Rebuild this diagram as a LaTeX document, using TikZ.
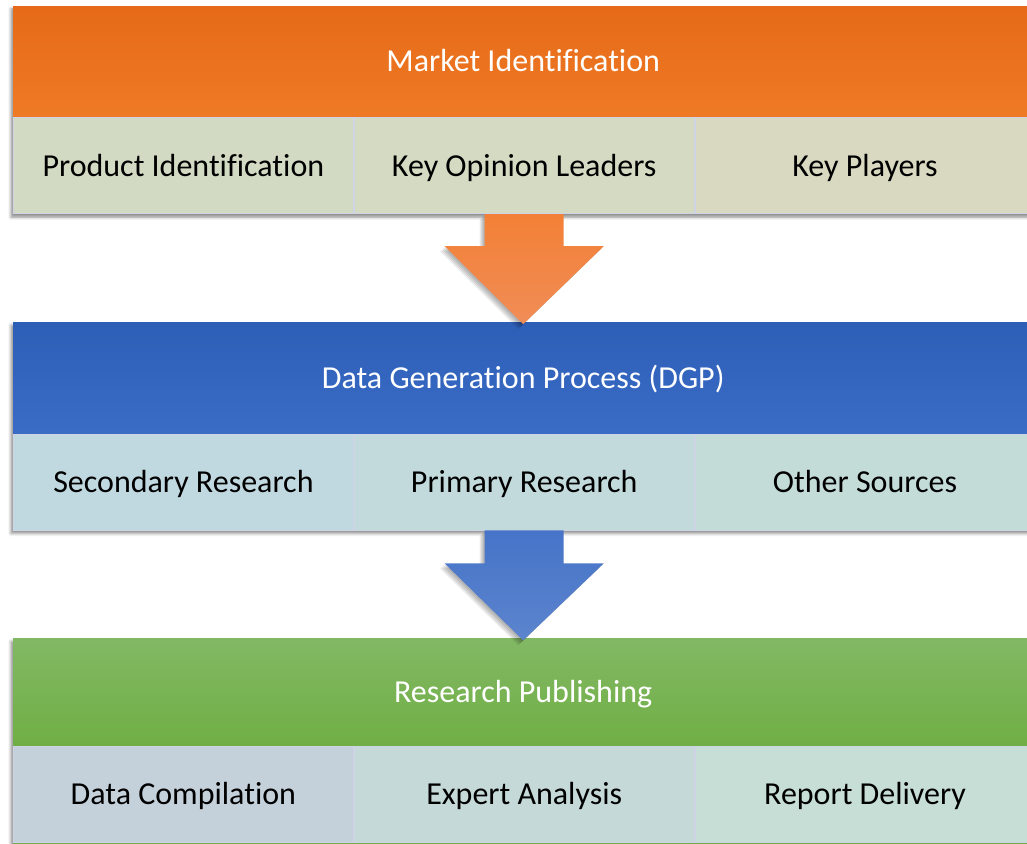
\documentclass[tikz,border=0pt]{standalone}
\usepackage{fontspec}
\setmainfont{Carlito}[Ligatures=NoCommon]
\usetikzlibrary{positioning,calc,fit,shadows.blur}

\definecolor{marketTop}{RGB}{230,106,23}
\definecolor{marketBottom}{RGB}{239,122,37}
\definecolor{dgpTop}{RGB}{46,95,183}
\definecolor{dgpBottom}{RGB}{58,108,198}
\definecolor{publishTop}{RGB}{130,184,100}
\definecolor{publishBottom}{RGB}{112,175,69}
\definecolor{orangeArrowTop}{RGB}{243,128,54}
\definecolor{orangeArrowBottom}{RGB}{240,141,87}
\definecolor{blueArrowTop}{RGB}{70,116,200}
\definecolor{blueArrowBottom}{RGB}{92,132,206}
\definecolor{cellLine}{RGB}{206,211,230}

\tikzset{band/.style={minimum width=1020pt, minimum height=111pt, inner sep=0pt, text height=20.5pt, text depth=0pt, text=white, font=\fontsize{32}{38}\selectfont}}
\tikzset{cell/.style={draw=cellLine, line width=0.8pt, minimum width=340pt, minimum height=96pt, inner sep=0pt, text height=20.5pt, text depth=0pt, font=\fontsize{32}{38}\selectfont}}
\tikzset{shade box/.style={inner sep=0pt, fill=white, blur shadow={shadow xshift=-2pt, shadow yshift=-3pt, shadow blur radius=3pt, shadow opacity=45}}}
\tikzset{arrow shadow/.style={fill=black, opacity=0.07}}

\begin{document}
\begin{tikzpicture}[x=1pt, y=1pt]
\pgfdeclarelayer{background}
\pgfsetlayers{background,main}
\clip (0,0) rectangle (1027,843);

% Market identification block
\node (market) [band, anchor=north west, top color=marketTop, bottom color=marketBottom] at (13,837) {Market Identification};
\node (product) [cell, fill={rgb,255:red,210;green,218;blue,195}, below right=0pt of market.south west] {Product Identification};
\node (opinion) [cell, fill={rgb,255:red,213;green,218;blue,194}, right=0pt of product] {Key Opinion Leaders};
\node (players) [cell, fill={rgb,255:red,216;green,217;blue,192}, right=0pt of opinion] {Key Players};

% Data generation block
\node (dgp) [band, top color=dgpTop, bottom color=dgpBottom, below right=108pt and 0pt of product.south west] {Data Generation Process (DGP)};
\node (secondary) [cell, fill={rgb,255:red,192;green,216;blue,224}, below right=0pt of dgp.south west] {Secondary Research};
\node (primary) [cell, fill={rgb,255:red,194;green,218;blue,220}, right=0pt of secondary] {Primary Research};
\node (other) [cell, fill={rgb,255:red,196;green,220;blue,216}, right=0pt of primary] {Other Sources};

% Publishing block
\node (publish) [band, minimum height=107pt, top color=publishTop, bottom color=publishBottom, below right=108pt and 0pt of secondary.south west] {Research Publishing};
\node (compile) [cell, fill={rgb,255:red,196;green,208;blue,218}, below right=0pt of publish.south west] {Data Compilation};
\node (analysis) [cell, fill={rgb,255:red,198;green,217;blue,217}, right=0pt of compile] {Expert Analysis};
\node (delivery) [cell, fill={rgb,255:red,198;green,222;blue,214}, right=0pt of analysis] {Report Delivery};
\fill[publishBottom] (compile.south west) rectangle ($(delivery.south east)+(0,-10)$);

\begin{pgfonlayer}{background}
\node [shade box, fit=(market) (players)] {};
\node [shade box, fit=(dgp) (other)] {};
\node [shade box, fit=(publish) (delivery)] {};
\end{pgfonlayer}

% Arrows between blocks, soft shadow first
\foreach \s in {1,2,3,4,5} {
  \fill[arrow shadow] ($(opinion.south)+(-39.5-\s,-\s)$) -- ++(0,-32) -- ++(-40,0) -- ($(dgp.north)+(-\s,-2-\s)$)
    -- ($(opinion.south)+(79.5-\s,-32-\s)$) -- ++(-40,0) -- ($(opinion.south)+(39.5-\s,-\s)$) -- cycle;
  \fill[arrow shadow] ($(primary.south)+(-39.5-\s,-\s)$) -- ++(0,-33) -- ++(-40,0) -- ($(publish.north)+(-\s,-2-\s)$)
    -- ($(primary.south)+(79.5-\s,-33-\s)$) -- ++(-40,0) -- ($(primary.south)+(39.5-\s,-\s)$) -- cycle;
}
\shade[top color=orangeArrowTop, bottom color=orangeArrowBottom]
  ($(opinion.south)+(-39.5,0)$) -- ++(0,-32) -- ++(-40,0) -- ($(dgp.north)+(0,-2)$)
  -- ($(opinion.south)+(79.5,-32)$) -- ++(-40,0) -- ($(opinion.south)+(39.5,0)$) -- cycle;
\shade[top color=blueArrowTop, bottom color=blueArrowBottom]
  ($(primary.south)+(-39.5,0)$) -- ++(0,-33) -- ++(-40,0) -- ($(publish.north)+(0,-2)$)
  -- ($(primary.south)+(79.5,-33)$) -- ++(-40,0) -- ($(primary.south)+(39.5,0)$) -- cycle;

\end{tikzpicture}
\end{document}
